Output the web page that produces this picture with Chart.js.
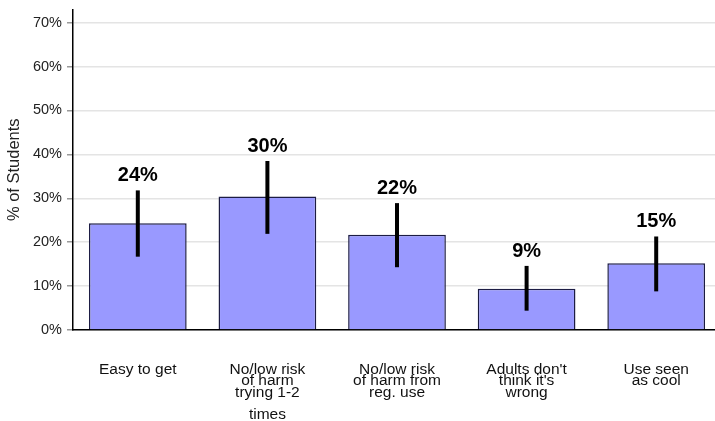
<!DOCTYPE html>
<html>
<head>
<meta charset="utf-8">
<script src="https://cdn.jsdelivr.net/npm/chart.js@4.4.0/dist/chart.umd.min.js"></script>
<style>
  html, body { margin: 0; padding: 0; background: #fff; overflow: hidden; }
  #wrap { width: 721px; height: 421px; }
</style>
</head>
<body>
<div id="wrap"><canvas id="reasons" width="721" height="421"></canvas></div>
<script>
// reasons students give, % answering yes
var categories = [
  ["Easy to get"],
  ["No/low risk", "of harm", "trying 1-2", "", "times"],
  ["No/low risk", "of harm from", "reg. use"],
  ["Adults don't", "think it's", "wrong"],
  ["Use seen", "as cool"]
];
var percents = [24.3, 30.4, 21.7, 9.4, 15.2];
var lowerCI  = [16.7, 21.9, 14.3, 4.4, 8.8];
var upperCI  = [31.8, 38.5, 28.9, 14.6, 21.3];
var yTicks   = [0, 10, 20, 30, 40, 50, 60, 70];

// error bars + the big % labels above them
var errorBars = {
  id: 'errorBars',
  afterDatasetsDraw: function(chart) {
    var ctx = chart.ctx;
    var x = chart.scales.x, y = chart.scales.y;
    ctx.save();
    ctx.strokeStyle = '#000';
    ctx.lineWidth = 4;
    ctx.lineCap = 'butt';
    ctx.fillStyle = '#000';
    ctx.font = 'bold 20px "Liberation Sans", Arial, sans-serif';
    ctx.textAlign = 'center';
    ctx.textBaseline = 'alphabetic';
    for (var i = 0; i < percents.length; i++) {
      var px = x.getPixelForValue(i);
      var top = y.getPixelForValue(upperCI[i]);
      ctx.beginPath();
      ctx.moveTo(px, y.getPixelForValue(lowerCI[i]));
      ctx.lineTo(px, top);
      ctx.stroke();
      ctx.fillText(Math.round(percents[i]) + '%', px, top - 9);
    }
    ctx.restore();
  }
};

var ctx = document.getElementById('reasons').getContext('2d');
var chart = new Chart(ctx, {
  type: 'bar',
  data: {
    labels: categories,
    datasets: [{
      data: percents,
      backgroundColor: '#9999ff',
      borderColor: '#1c1c44',
      borderWidth: 1.5,
      borderSkipped: 'bottom',
      categoryPercentage: 1.0,
      barPercentage: 0.754
    }]
  },
  options: {
    responsive: false,
    animation: false,
    layout: { padding: { top: 9.5, left: 0, right: 0, bottom: 0 } },
    plugins: {
      legend: { display: false },
      tooltip: { enabled: false }
    },
    scales: {
      x: {
        grid: { display: false },
        border: { display: true, color: '#000', width: 1.5 },
        ticks: {
          color: '#111',
          font: { family: '"Liberation Sans", Arial, sans-serif', size: 15.5, lineHeight: 0.73 },
          padding: 26,
          maxRotation: 0,
          autoSkip: false
        },
        afterFit: function(scale) { scale.height = 91; }
      },
      y: {
        min: 0,
        max: 73,
        afterBuildTicks: function(scale) {
          scale.ticks = yTicks.map(function(v) { return { value: v }; });
        },
        grid: { color: '#e4e4e4', lineWidth: 1.5, tickLength: 6, tickColor: '#999' },
        border: { display: true, color: '#000', width: 1.5 },
        ticks: {
          color: '#222',
          font: { family: '"Liberation Sans", Arial, sans-serif', size: 14.5 },
          padding: 5,
          callback: function(v) { return v + '%'; }
        },
        title: {
          display: true,
          text: '% of Students',
          color: '#222',
          font: { family: '"Liberation Sans", Arial, sans-serif', size: 16.5 },
          padding: { top: 5, bottom: 0 }
        },
        afterFit: function(scale) {
          scale.width = 73;
          scale.paddingTop = 0;
          scale.paddingBottom = 0;
        }
      }
    }
  },
  plugins: [errorBars]
});
</script>
</body>
</html>
